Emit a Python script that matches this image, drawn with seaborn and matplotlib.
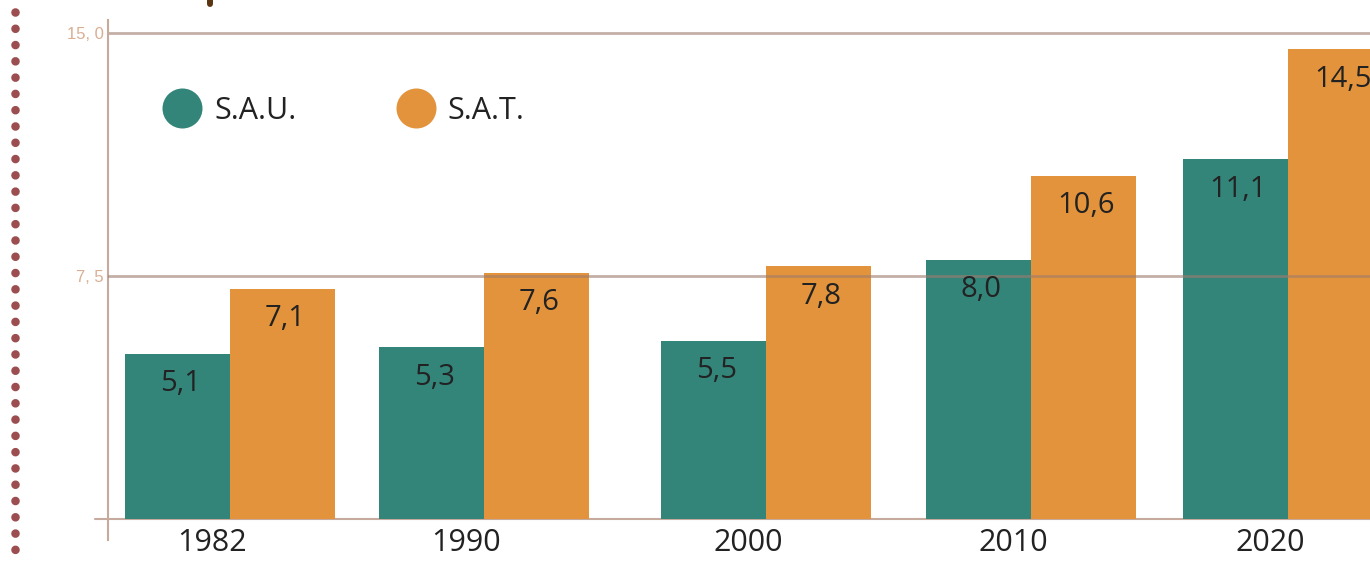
import pandas as pd
import matplotlib.pyplot as plt
import seaborn as sns
from matplotlib.lines import Line2D
from matplotlib.transforms import ScaledTranslation

# ================= 数据 =================
years = ['1982', '1990', '2000', '2010', '2020']
sau = [5.1, 5.3, 5.5, 8.0, 11.1]
sat = [7.1, 7.6, 7.8, 10.6, 14.5]
series = ['S.A.U.', 'S.A.T.']

# 版面：各组中心位置（像素坐标），不是数据
group_pos = [230, 484, 766, 1031, 1288]

GREEN = '#33857A'
ORANGE = '#E3933B'
LINE_C = '#C6AA9D'
TICK_C = '#D9AE93'
TEXT_C = '#222222'

W, H = 1370, 564

sns.set_theme(style='white')
plt.rcParams['font.family'] = ['Open Sans', 'DejaVu Sans']

df = pd.DataFrame({
    'pos': group_pos * 2,
    'value': sau + sat,
    'serie': [series[0]] * len(years) + [series[1]] * len(years),
})

fig = plt.figure(figsize=(W / 100, H / 100), dpi=100)
ax = fig.add_axes([108 / W, 24 / H, 1 - 108 / W, 520 / H])

sns.barplot(data=df, x='pos', y='value', hue='serie', hue_order=series,
            native_scale=True, width=210 / 254, gap=0, errorbar=None,
            palette=[GREEN, ORANGE], saturation=1, linewidth=0,
            legend=False, ax=ax, zorder=2)

ax.set_xlim(108, W)
ax.set_ylim(-0.65, 15.4)
ax.set_xlabel('')
ax.set_ylabel('')

# 坐标轴与网格线
for s in ['top', 'right', 'bottom']:
    ax.spines[s].set_visible(False)
ax.spines['left'].set_color(LINE_C)
ax.spines['left'].set_linewidth(1.5)

ax.axhline(0, xmin=-13 / (W - 108), xmax=1, color=LINE_C, lw=1.5,
           clip_on=False, zorder=1)
ax.axhline(15, color='#C4AFA7', lw=2, zorder=1)
ax.axhline(7.5, color='#9E7B6C', alpha=0.6, lw=2, zorder=3)

# 刻度
ax.set_xticks(group_pos, years)
ax.tick_params(axis='x', length=0, pad=-8.5, labelsize=22, labelcolor=TEXT_C)
for lbl in ax.get_xticklabels():
    lbl.set_transform(lbl.get_transform() + ScaledTranslation(-18 / 100, 0, fig.dpi_scale_trans))

ax.set_yticks([7.5, 15], ['7, 5', '15, 0'])
ax.tick_params(axis='y', length=0, pad=3, labelsize=12, labelcolor=TICK_C)
for lbl in ax.get_yticklabels():
    lbl.set_fontfamily('Liberation Sans')

# 柱内数值
for bar in ax.patches:
    h = bar.get_height()
    ax.annotate(f"{h:.1f}".replace('.', ','),
                (bar.get_x() + bar.get_width() / 2, h),
                xytext=(2, -21.6), textcoords='offset points',
                ha='center', va='center', fontsize=21, color=TEXT_C, zorder=4)

# 图例
handles = [Line2D([], [], marker='o', ls='', markersize=28.8, markeredgewidth=0, color=c)
           for c in [GREEN, ORANGE]]
ax.legend(handles, series, loc='center left', ncol=2, frameon=False,
          bbox_to_anchor=(162 / W, 1 - 111 / H), bbox_transform=fig.transFigure,
          fontsize=22, handlelength=1.3, handletextpad=0.4, columnspacing=3.26,
          borderpad=0, borderaxespad=0, labelcolor=TEXT_C)

# 左侧点状边框
fig.add_artist(Line2D([15 / W, 15 / W], [1 - 11.7 / H, 0], transform=fig.transFigure,
                      lw=6.2, color='#9B4D4F', ls=(0, (0.001, 1.89)),
                      dash_capstyle='round'))
# 顶部被裁掉的标题残笔
fig.add_artist(Line2D([210 / W, 210 / W], [1, 1 - 4 / H], transform=fig.transFigure,
                      lw=4.3, color='#5B3512', solid_capstyle='round'))

fig.savefig('out.png', dpi=100)
